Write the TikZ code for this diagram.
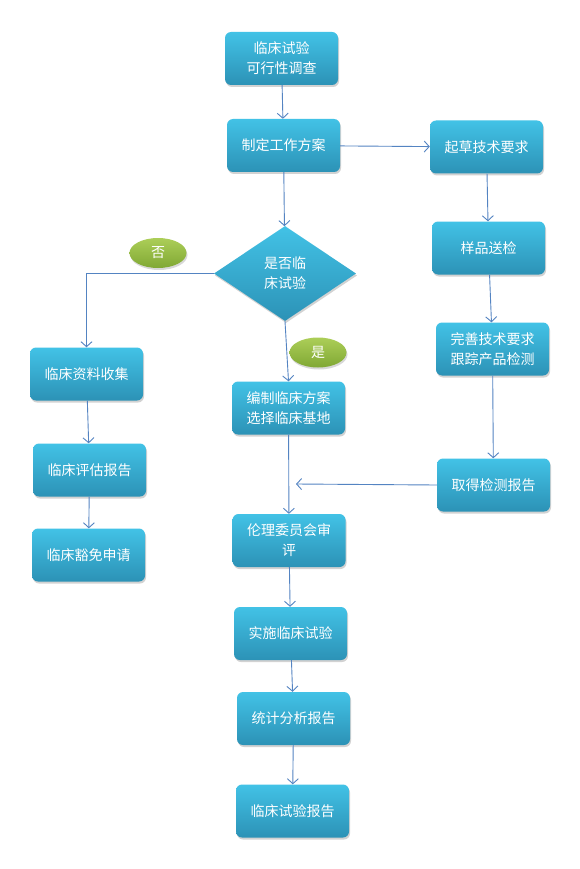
\documentclass[tikz,border=0pt]{standalone}
\usepackage{fontspec}
\newfontfamily\cjk{Noto Sans CJK SC}
\usetikzlibrary{shapes.geometric,shadows,arrows.meta}
\definecolor{boxtop}{RGB}{66,194,230}
\definecolor{boxbot}{RGB}{44,146,182}
\definecolor{gtop}{RGB}{172,206,88}
\definecolor{gbot}{RGB}{128,168,52}
\definecolor{arr}{RGB}{84,132,194}
\tikzset{
  pbox/.style={rectangle, rounded corners=6pt, minimum width=113pt, minimum height=53pt,
    inner sep=2pt, top color=boxtop, bottom color=boxbot, draw=none,
    drop shadow={opacity=0.35, shadow xshift=1pt, shadow yshift=-2pt},
    text=white, align=center, font=\cjk\fontsize{14}{20}\selectfont},
  dec/.style={diamond, minimum width=142pt, minimum height=95pt, inner sep=0pt,
    top color=boxtop, bottom color=boxbot, draw=none,
    drop shadow={opacity=0.35, shadow xshift=1pt, shadow yshift=-2pt},
    text=white, align=center, font=\cjk\fontsize{14}{20}\selectfont},
  lab/.style={ellipse, minimum width=57pt, minimum height=30pt, inner sep=0pt,
    top color=gtop, bottom color=gbot, draw=none,
    drop shadow={opacity=0.3, shadow xshift=1pt, shadow yshift=-2pt},
    text=white, font=\cjk\fontsize{14}{17}\selectfont},
  conn/.style={draw=arr, line width=0.9pt, -{Straight Barb[length=5pt,width=11pt,line width=0.9pt]}}
}
\begin{document}
\begin{tikzpicture}[x=1pt,y=-1pt]
\useasboundingbox (0,0) rectangle (579,869);
\fill[white] (0,0) rectangle (579,869);
\node[pbox] (feas) at (281.5,58.5) {临床试验\\可行性调查};
\node[pbox] (plan) at (283.5,145.5) {制定工作方案};
\node[pbox] (draft) at (486.5,147) {起草技术要求};
\node[pbox] (samp) at (488.5,248) {样品送检};
\node[pbox] (perf) at (492.5,349) {完善技术要求\\跟踪产品检测};
\node[pbox] (rep) at (493.5,485) {取得检测报告};
\node[dec] (dia) at (285,273.5) {是否临\\床试验};
\node[lab] (no) at (158,253) {否};
\node[lab] (yes) at (318,352.5) {是};
\node[pbox] (sel) at (288.5,408) {编制临床方案\\选择临床基地};
\node[pbox] (col) at (86.5,374) {临床资料收集};
\node[pbox] (eva) at (89.5,470) {临床评估报告};
\node[pbox] (exm) at (88.5,555) {临床豁免申请};
\node[pbox] (eth) at (289,540.5) {伦理委员会审\\评};
\node[pbox] (imp) at (290.5,633.5) {实施临床试验};
\node[pbox] (sta) at (293.5,718.5) {统计分析报告};
\node[pbox] (fin) at (292.5,811) {临床试验报告};
\coordinate (j) at (296,484);

\draw[conn] (feas) -- (plan);
\draw[conn] (plan) -- (dia);
\draw[conn] (plan) -- (draft);
\draw[conn] (draft) -- (samp);
\draw[conn] (samp) -- (perf);
\draw[conn] (perf) -- (rep);
\draw[conn] (rep.west) -- (j);
\draw[conn] (dia.south) -- (sel.north);
\draw[conn] (sel) -- (eth);
\draw[conn] (dia.west) -| (col.north);
\draw[conn] (col) -- (eva);
\draw[conn] (eva) -- (exm);
\draw[conn] (eth) -- (imp);
\draw[conn] (imp) -- (sta);
\draw[conn] (sta) -- (fin);
\end{tikzpicture}
\end{document}
